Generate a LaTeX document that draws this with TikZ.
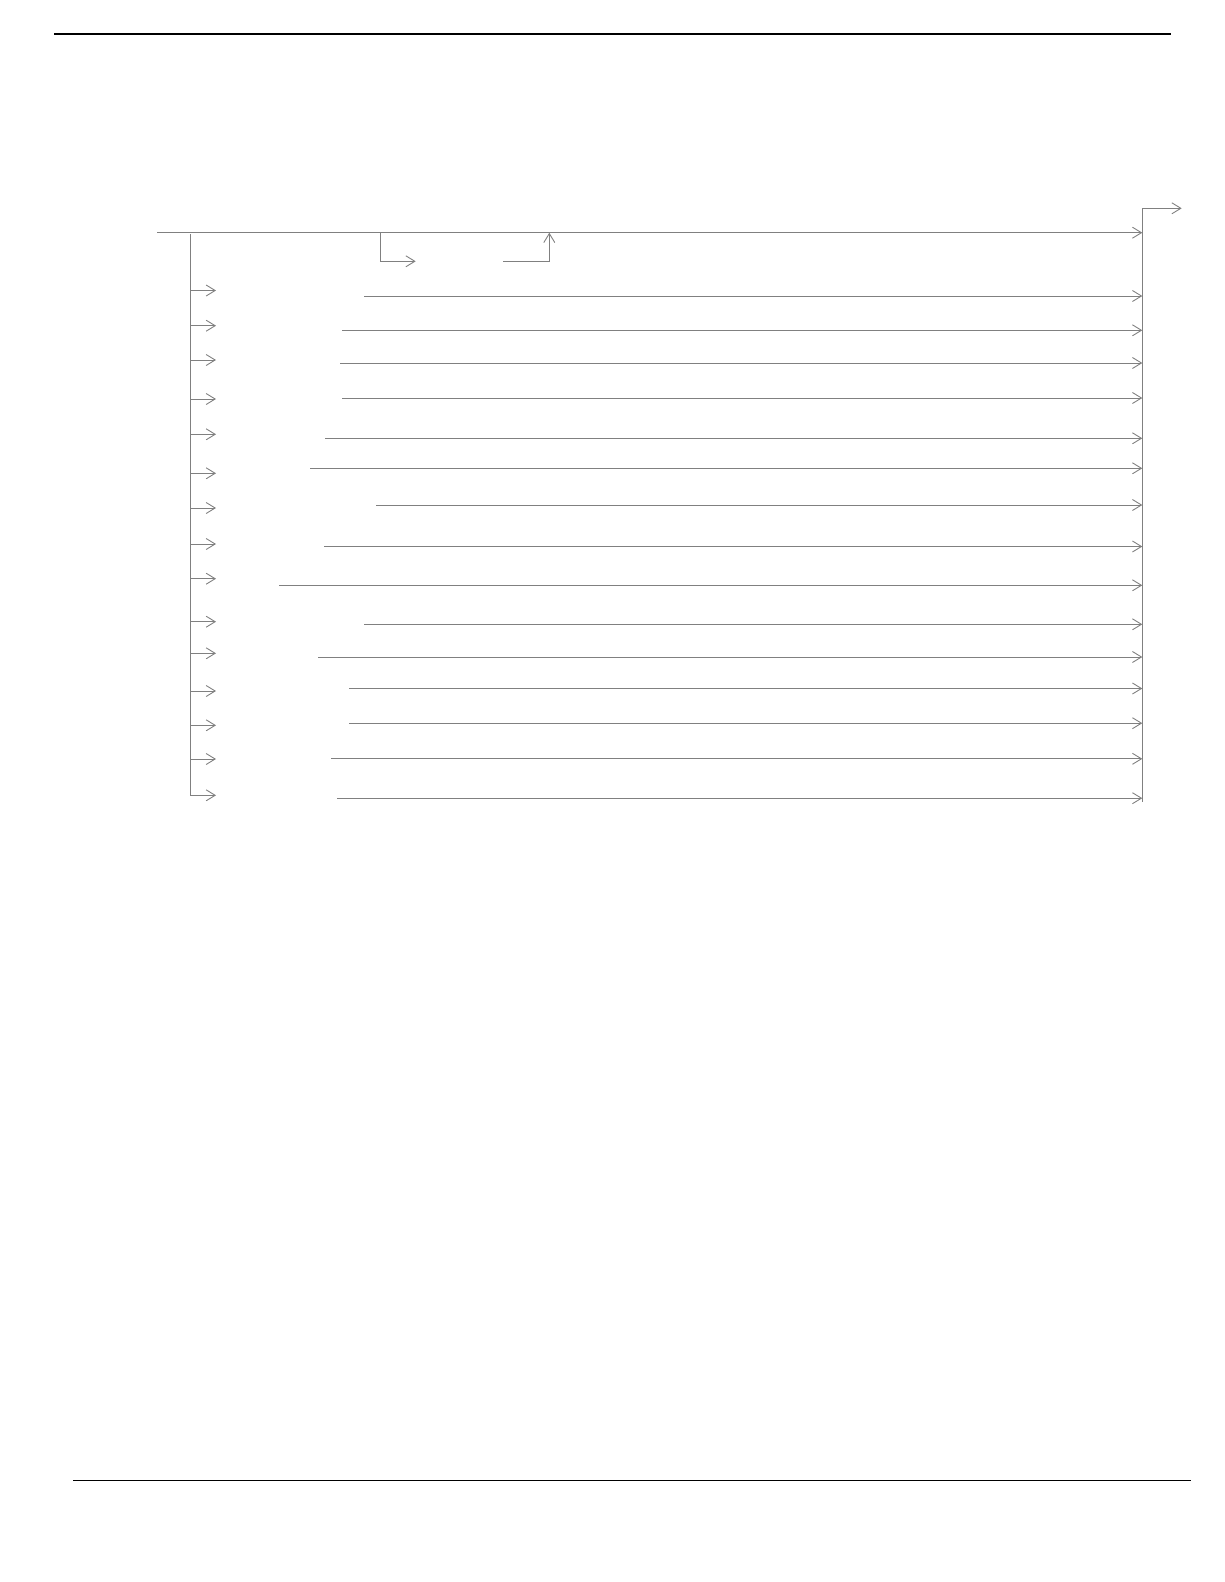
\documentclass[tikz,border=0pt]{standalone}
\usetikzlibrary{arrows.meta}
\definecolor{railgray}{RGB}{128,128,128}
\tikzset{track/.style = {draw=railgray, line width=0.9pt}}
\tikzset{tracktip/.style = {track, -{Straight Barb[length=9pt, width=11pt]}}}
\tikzset{pagerule/.style = {draw=black, line width=1.2pt}}

\begin{document}
\begin{tikzpicture}[x=1pt, y=-1pt]
      \useasboundingbox (0,0) rectangle (1224,1582);
      % page rules
      \coordinate (rulea) at (54,34);
      \coordinate (ruleb) at (1170.7,34);
      \coordinate (rulec) at (73.3,1480.3);
      \coordinate (ruled) at (1190.7,1480.3);
      \draw [pagerule] (rulea) -- (ruleb);
      \draw [pagerule] (rulec) -- (ruled);
      % main track
      \coordinate (start) at (157.3,232.7);
      \coordinate (join) at (1142.3,232.7);
      \coordinate (leftbus) at (190.3,234);
      \coordinate (rightbus) at (1142.3,801.5);
      \coordinate (corner) at (1142.3,208.3);
      \coordinate (exit) at (1181.7,208.3);
      \draw [tracktip] (start) -- (join);
      \draw [tracktip] (rightbus) -- (corner) -- (exit);
      % optional loop on the main track
      \coordinate (optdown) at (380.7,232.7);
      \coordinate (optin) at (415.7,261.3);
      \coordinate (optout) at (503.3,261.3);
      \coordinate (optup) at (549.3,232.7);
      \draw [tracktip] (optdown) |- (optin);
      \draw [tracktip] (optout) -| (optup);
      % choices
      \foreach \i/\ya/\xs/\yb in {1/290.5/364/296, 2/325.7/342/330.3,
          3/360/340/363, 4/399/342/398, 5/434.3/325/438.3,
          6/473.3/310/468.3, 7/508/376/505, 8/544/324/546.5,
          9/578.7/279/585.3, 10/621.7/364/624.3, 11/653.3/318/657,
          12/691/349/688.5, 13/725.3/349/723.2, 14/759/331/758.8,
          15/795.3/337/798.2}{
        \coordinate (in\i) at (190.3,\ya);
        \coordinate (tip\i) at (216,\ya);
        \coordinate (from\i) at (\xs,\yb);
        \coordinate (to\i) at (1142.3,\yb);
        \draw [tracktip] (in\i) -- (tip\i);
        \draw [tracktip] (from\i) -- (to\i);
      }
      \draw [track] (leftbus) -- (in15);
    \end{tikzpicture}
\end{document}
